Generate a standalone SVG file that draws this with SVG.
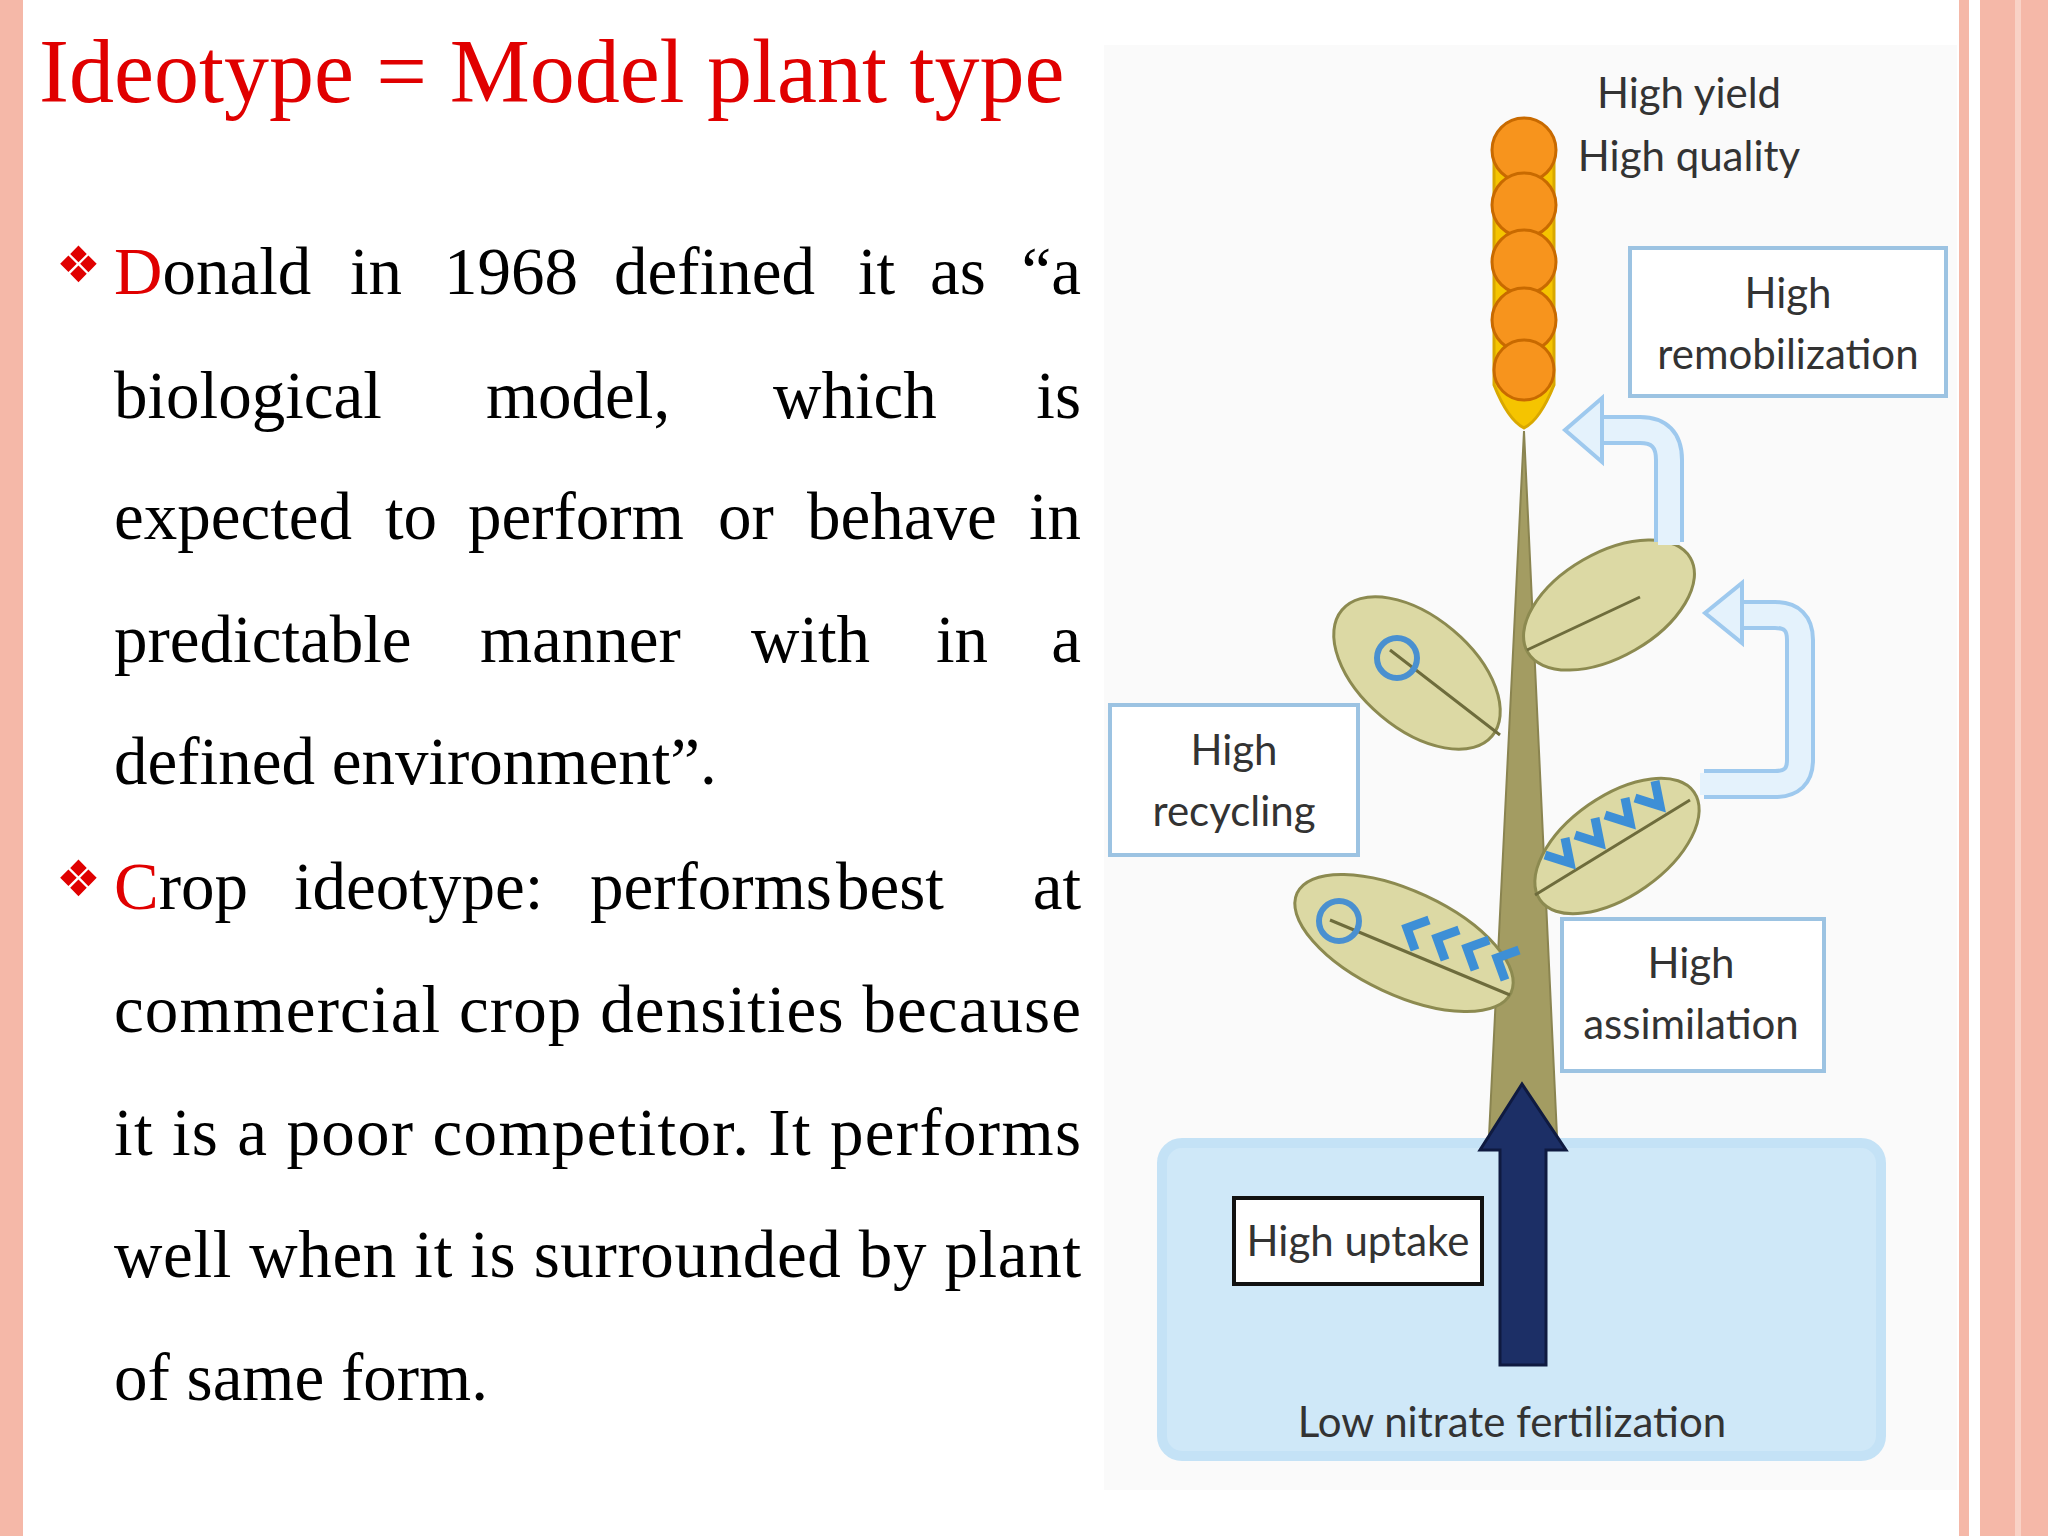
<svg xmlns="http://www.w3.org/2000/svg" width="2048" height="1536" viewBox="0 0 2048 1536">
<style>
.b{font-family:"Liberation Serif",serif;font-size:67px;fill:#000}
.e{text-anchor:end}
.r{fill:#e00000}
.bl{font-family:"DejaVu Sans",sans-serif;font-size:50px;fill:#e00000}
.d{font-family:Lato,"Open Sans",sans-serif;font-size:42px;fill:#333;text-anchor:middle}
.box{fill:#fff;stroke:#9cc3e2;stroke-width:4}
.leaf{fill:#dcd9a4;stroke:#8c8a50;stroke-width:3}
.arr{fill:none;stroke:#9ec9ee;stroke-width:30}
.arrin{fill:none;stroke:#e4f2fc;stroke-width:22}
.chev{fill:none;stroke:#3d8fd6;stroke-width:9}
</style>
<rect width="2048" height="1536" fill="#fff"/>
<rect x="0" y="0" width="23" height="1536" fill="#f5b8a8"/>
<rect x="1959" y="0" width="10" height="1536" fill="#f5b8a8"/>
<rect x="1980" y="0" width="68" height="1536" fill="#f5b8a8"/>
<rect x="2015" y="0" width="6" height="1536" fill="#f9d2c6"/>
<rect x="1104" y="45" width="853" height="1445" fill="#fafafa"/>
<text x="39" y="102" font-family="Liberation Serif,serif" font-size="90" fill="#e00000">Ideotype = Model plant type</text>
<g id="text">
<text class="bl" x="56" y="282">❖</text>
<text class="b" y="294"><tspan class="r" x="114">D</tspan><tspan>onald</tspan></text>
<text class="b" x="350" y="294">in</text><text class="b" x="444" y="294">1968</text><text class="b" x="614" y="294">defined</text><text class="b" x="858" y="294">it</text><text class="b" x="930" y="294">as</text><text class="b e" x="1081" y="294">“a</text>
<text class="b" x="114" y="418">biological</text><text class="b" x="486" y="418">model,</text><text class="b" x="773" y="418">which</text><text class="b e" x="1081" y="418">is</text>
<text class="b" x="114" y="539">expected</text><text class="b" x="385" y="539">to</text><text class="b" x="468" y="539">perform</text><text class="b" x="718" y="539">or</text><text class="b" x="807" y="539">behave</text><text class="b e" x="1081" y="539">in</text>
<text class="b" x="114" y="662">predictable</text><text class="b" x="480" y="662">manner</text><text class="b" x="751" y="662">with</text><text class="b" x="936" y="662">in</text><text class="b e" x="1081" y="662">a</text>
<text class="b" x="114" y="784">defined environment”.</text>
<text class="bl" x="56" y="896">❖</text>
<text class="b" y="909"><tspan class="r" x="114">C</tspan><tspan>rop</tspan></text>
<text class="b" x="294" y="909">ideotype:</text><text class="b" x="590" y="909">performs</text><text class="b" x="836" y="909">best</text><text class="b e" x="1081" y="909">at</text>
<text class="b" x="114" y="1032" textLength="967" lengthAdjust="spacing">commercial crop densities because</text>
<text class="b" x="114" y="1155" textLength="967" lengthAdjust="spacing">it is a poor competitor. It performs</text>
<text class="b" x="114" y="1277" textLength="967" lengthAdjust="spacing">well when it is surrounded by plant</text>
<text class="b" x="114" y="1400">of same form.</text>
</g>
<g id="soil">
<rect x="1162" y="1143" width="719" height="313" rx="20" fill="#cfe8f8" stroke="#c4e2f6" stroke-width="10"/>
<text class="d" x="1512" y="1437">Low nitrate fertilization</text>
</g>
<g id="plant">
<path d="M1489,1136 L1524,431 L1557,1136 Z" fill="#a39c62" stroke="#8a8450" stroke-width="2"/>
<ellipse class="leaf" cx="1417" cy="673" rx="98" ry="56" transform="rotate(40 1417 673)"/>
<ellipse class="leaf" cx="1609" cy="605" rx="94" ry="52" transform="rotate(-30 1609 605)"/>
<ellipse class="leaf" cx="1617" cy="846" rx="94" ry="50" transform="rotate(-35 1617 846)"/>
<ellipse class="leaf" cx="1404" cy="943" rx="118" ry="52" transform="rotate(25 1404 943)"/>
<path d="M1390,650 L1500,735 M1527,650 L1640,597 M1535,895 L1690,800 M1330,920 L1510,995" stroke="#6e6c3c" stroke-width="3" fill="none"/>
<circle cx="1397" cy="658" r="20" fill="none" stroke="#4a90d0" stroke-width="6"/>
<circle cx="1339" cy="921" r="20" fill="none" stroke="#4a90d0" stroke-width="6"/>
<path class="chev" d="M1545,855 l25,8 -5,-25 M1575,835 l25,8 -5,-25 M1605,815 l25,8 -5,-25 M1635,798 l25,8 -5,-25"/>
<path class="chev" d="M1415,950 l-8,-22 22,-8 M1445,960 l-8,-22 22,-8 M1475,970 l-8,-22 22,-8 M1505,980 l-8,-22 22,-8"/>
<path d="M1494,145 Q1524,105 1554,145 L1554,385 Q1540,420 1524,428 Q1508,420 1494,385 Z" fill="#f5c400" stroke="#d9a800" stroke-width="3"/>
<circle cx="1524" cy="150" r="32" fill="#f7941d" stroke="#c86a00" stroke-width="3"/>
<circle cx="1524" cy="205" r="32" fill="#f7941d" stroke="#c86a00" stroke-width="3"/>
<circle cx="1524" cy="262" r="32" fill="#f7941d" stroke="#c86a00" stroke-width="3"/>
<circle cx="1524" cy="320" r="32" fill="#f7941d" stroke="#c86a00" stroke-width="3"/>
<circle cx="1524" cy="370" r="30" fill="#f7941d" stroke="#c86a00" stroke-width="3"/>
<path d="M1500,1365 V1150 H1480 L1522,1084 L1566,1150 H1546 V1365 Z" fill="#1c2f66" stroke="#0f1a40" stroke-width="3"/>
<text class="d" x="1689" y="108">High yield</text>
<text class="d" x="1689" y="171">High quality</text>
</g>
<g id="connectors">
<path class="arr" d="M1669,542 V460 Q1669,430 1640,430 H1600"/>
<path class="arrin" d="M1669,545 V460 Q1669,430 1640,430 H1598"/>
<polygon points="1565,430 1602,398 1602,462" fill="#e4f2fc" stroke="#9ec9ee" stroke-width="4"/>
<path class="arr" d="M1704,784 H1775 Q1800,784 1800,760 V640 Q1800,615 1775,615 H1740"/>
<path class="arrin" d="M1700,784 H1775 Q1800,784 1800,760 V640 Q1800,615 1775,615 H1738"/>
<polygon points="1705,613 1742,583 1742,643" fill="#e4f2fc" stroke="#9ec9ee" stroke-width="4"/>
</g>
<g id="remob"><rect class="box" x="1630" y="248" width="316" height="148"/><text class="d" x="1788" y="308">High</text><text class="d" x="1788" y="369">remobilization</text></g>
<g id="recycling"><rect class="box" x="1110" y="705" width="248" height="150"/><text class="d" x="1234" y="765">High</text><text class="d" x="1234" y="826">recycling</text></g>
<g id="assim"><rect class="box" x="1562" y="919" width="262" height="152" stroke="#7ea9cc"/><text class="d" x="1691" y="978">High</text><text class="d" x="1691" y="1039">assimilation</text></g>
<g id="uptake"><rect x="1234" y="1198" width="248" height="86" fill="#fff" stroke="#111" stroke-width="4"/><text class="d" x="1358" y="1256" fill="#222">High uptake</text></g>
</svg>
